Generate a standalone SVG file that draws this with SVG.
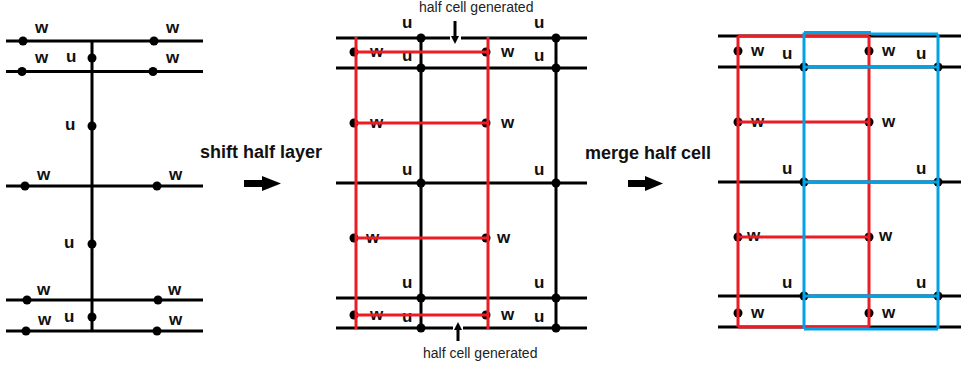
<svg xmlns="http://www.w3.org/2000/svg" width="962" height="370" viewBox="0 0 962 370">
<style>
.bk{stroke:#000;stroke-width:3;fill:none}
.rd{stroke:#ED1C24;stroke-width:3;fill:none}
.bl{stroke:#00A2E8;stroke-width:3;fill:none}
.lb{font-family:"Liberation Sans",Arial,sans-serif;font-weight:bold;font-size:17px;fill:#111}
.ti{font-family:"Liberation Sans",Arial,sans-serif;font-weight:bold;font-size:18px;fill:#111}
.sm{font-family:"Liberation Sans",Arial,sans-serif;font-size:14px;fill:#222}
circle{fill:#000}
</style>
<rect width="962" height="370" fill="#fff"/>
<g id="connectors">
  <!-- left panel -->
  <path class="bk" d="M6 41H203M6 71.5H203M6 186H203M6 300H203M6 331H203M92 41V331"/>
  <!-- middle panel -->
  <path class="bk" d="M336 38H450M461 38H587M336 68H587M336 183H587M336 298H587M336 328H453M463 328H587M421 38V328M556 38V328"/>
  <!-- right panel -->
  <path class="bk" d="M718 36H961M718 67H961M718 182H961M718 296H961M718 327H961"/>
  <!-- arrows -->
  <path d="M244 180H262V176L281 183.5L262 191V187H244Z" fill="#000"/>
  <path d="M628 180H645V176L663 183.5L645 191V187H628Z" fill="#000"/>
  <path d="M455 21V38" stroke="#000" stroke-width="3"/>
  <path d="M451 36L459 36L455 44Z" fill="#000"/>
  <path d="M458 341V328" stroke="#000" stroke-width="3"/>
  <path d="M454 330L462 330L458 322Z" fill="#000"/>
</g>
<g id="left-dots">
  <circle cx="23" cy="41" r="4.5"/><circle cx="154" cy="41" r="4.5"/>
  <circle cx="22" cy="71.5" r="4.5"/><circle cx="153" cy="71.5" r="4.5"/>
  <circle cx="92" cy="58" r="4.5"/><circle cx="92" cy="126" r="4.5"/>
  <circle cx="25" cy="186" r="4.5"/><circle cx="157" cy="186" r="4.5"/>
  <circle cx="92" cy="244" r="4.5"/>
  <circle cx="27" cy="300" r="4.5"/><circle cx="158" cy="300" r="4.5"/>
  <circle cx="92" cy="317" r="4.5"/>
  <circle cx="26" cy="331" r="4.5"/><circle cx="157" cy="331" r="4.5"/>
</g>
<g id="left-labels">
  <text class="lb" x="35" y="33">w</text><text class="lb" x="166" y="33">w</text>
  <text class="lb" x="35" y="63">w</text><text class="lb" x="66" y="62">u</text><text class="lb" x="166" y="63">w</text>
  <text class="lb" x="65" y="130">u</text>
  <text class="lb" x="37" y="180">w</text><text class="lb" x="169" y="180">w</text>
  <text class="lb" x="64" y="248">u</text>
  <text class="lb" x="37" y="295">w</text><text class="lb" x="168" y="295">w</text>
  <text class="lb" x="38" y="325">w</text><text class="lb" x="64" y="322">u</text><text class="lb" x="169" y="325">w</text>
</g>
<g id="shift-label"><text class="ti" x="200" y="158">shift half layer</text></g>
<g id="merge-label"><text class="ti" x="585" y="159">merge half cell</text></g>
<g id="middle">
  <circle cx="421" cy="38" r="4.5"/><circle cx="556" cy="38" r="4.5"/>
  <circle cx="421" cy="68" r="4.5"/><circle cx="556" cy="68" r="4.5"/>
  <circle cx="421" cy="183" r="4.5"/><circle cx="556" cy="183" r="4.5"/>
  <circle cx="421" cy="298" r="4.5"/><circle cx="556" cy="298" r="4.5"/>
  <circle cx="421" cy="328" r="4.5"/><circle cx="556" cy="328" r="4.5"/>
  <circle cx="354" cy="52" r="4.5"/><circle cx="486" cy="52" r="4.5"/>
  <circle cx="354" cy="123" r="4.5"/><circle cx="486" cy="123" r="4.5"/>
  <circle cx="354" cy="238" r="4.5"/><circle cx="486" cy="238" r="4.5"/>
  <circle cx="354" cy="315" r="4.5"/><circle cx="486" cy="315" r="4.5"/>
  <text class="lb" x="402" y="28">u</text><text class="lb" x="534" y="28">u</text>
  <text class="lb" x="402" y="61">u</text><text class="lb" x="534" y="61">u</text>
  <text class="lb" x="370" y="57">w</text><text class="lb" x="501" y="57">w</text>
  <text class="lb" x="370" y="128">w</text><text class="lb" x="501" y="128">w</text>
  <text class="lb" x="402" y="175">u</text><text class="lb" x="534" y="175">u</text>
  <text class="lb" x="366" y="243">w</text><text class="lb" x="497" y="243">w</text>
  <text class="lb" x="402" y="288">u</text><text class="lb" x="534" y="288">u</text>
  <text class="lb" x="370" y="320">w</text><text class="lb" x="501" y="320">w</text>
  <text class="lb" x="402" y="322">u</text><text class="lb" x="534" y="322">u</text>
  <path class="rd" d="M356 37V329M488 37V329M356 52H488M356 123H488M356 238H488M356 315H488"/>
  <text class="sm" x="419" y="12">half cell generated</text>
  <text class="sm" x="423" y="358">half cell generated</text>
</g>
<g id="right">
  <circle cx="738" cy="51" r="4.5"/><circle cx="869" cy="51" r="4.5"/>
  <circle cx="738" cy="122" r="4.5"/><circle cx="869" cy="122" r="4.5"/>
  <circle cx="738" cy="237" r="4.5"/><circle cx="869" cy="237" r="4.5"/>
  <circle cx="738" cy="313" r="4.5"/><circle cx="869" cy="313" r="4.5"/>
  <circle cx="804" cy="67" r="4.5"/><circle cx="938" cy="67" r="4.5"/>
  <circle cx="804" cy="182" r="4.5"/><circle cx="938" cy="182" r="4.5"/>
  <circle cx="804" cy="296" r="4.5"/><circle cx="938" cy="296" r="4.5"/>
  <text class="lb" x="751" y="56">w</text><text class="lb" x="882" y="56">w</text>
  <text class="lb" x="782" y="59">u</text><text class="lb" x="916" y="59">u</text>
  <text class="lb" x="751" y="127">w</text><text class="lb" x="882" y="127">w</text>
  <text class="lb" x="782" y="174">u</text><text class="lb" x="916" y="174">u</text>
  <text class="lb" x="747" y="241">w</text><text class="lb" x="879" y="241">w</text>
  <text class="lb" x="782" y="288">u</text><text class="lb" x="916" y="288">u</text>
  <text class="lb" x="751" y="318">w</text><text class="lb" x="882" y="318">w</text>
  <path class="rd" d="M738 36V327M869 36V327M738 36H869M738 122H869M738 237H869M738 327H869"/>
  <path class="bl" d="M804 32.5V329M938 34V329M804 32.5H871M871 34H938M804 67H938M804 182H938M804 296H938M804 329H938"/>
</g>
</svg>
